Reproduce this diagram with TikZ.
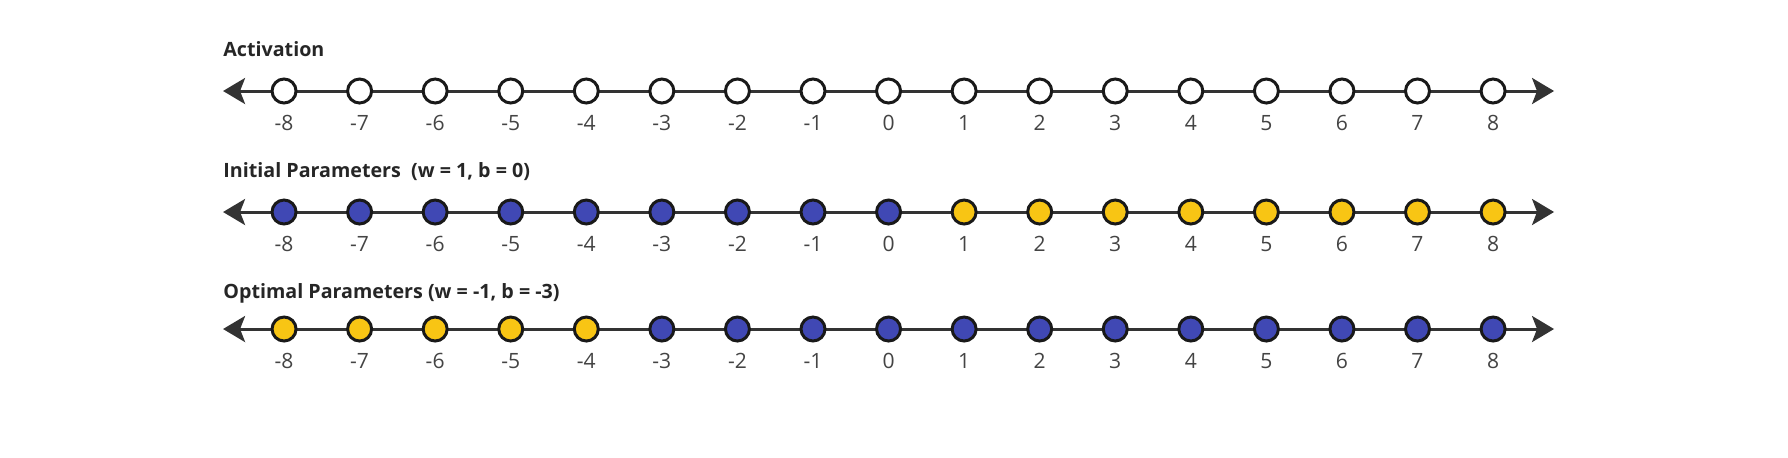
\documentclass[tikz,border=0pt]{standalone}
\usepackage{fontspec}
\setmainfont{Open Sans}
\usetikzlibrary{arrows.meta}
\definecolor{negblue}{RGB}{64,72,180}
\definecolor{posyellow}{RGB}{248,197,20}
\definecolor{axisgray}{RGB}{51,51,51}
\definecolor{numgray}{RGB}{68,68,68}
\begin{document}
\begin{tikzpicture}
	[
	x=1.5112cm, y=1cm,
	axis/.style={draw = axisgray, line width = 1.7pt,
		{Stealth[length=0.44cm, width=0.52cm, inset=0.1cm]}-{Stealth[length=0.44cm, width=0.52cm, inset=0.1cm]}},
	dot/.style={draw = black!90, line width = 1.7pt, shape = circle, minimum size = 0.48cm, inner sep = 0pt},
	offdot/.style={dot, fill = white},
	negdot/.style={dot, fill = negblue},
	posdot/.style={dot, fill = posyellow},
	num/.style={anchor = base, text = numgray, font = \fontsize{12}{14}\selectfont},
	ttl/.style={anchor = base west, inner sep = 0pt, text = black!85, font = \fontsize{11.2}{13}\bfseries}
	]
	\useasboundingbox (-11.759, 0) rectangle (11.903, 9.14);

	% titles
	\node[ttl](t1) at (-8.807, 8.02){Activation};
	\node[ttl](t2) at (-8.807, 5.60){Initial Parameters\ \ (w = 1, b = 0)};
	\node[ttl](t3) at (-8.807, 3.18){Optimal Parameters (w = -1, b = -3)};

	% number lines
	\foreach \r/\y in {1/7.32, 2/4.90, 3/2.56}{
		\coordinate (la\r) at (-8.807, \y);
		\coordinate (ra\r) at (8.807, \y);
		\draw[axis] (la\r) -- (ra\r);
		\foreach \v [count=\i] in {-8,...,8}
			\node[num](n\r-\i) at (\v, \y-0.78){\v};
	}

	% activation
	\foreach \v [count=\i] in {-8,...,8}
		\node[offdot](p1-\i) at (\v, 7.32){};

	% initial parameters
	\foreach \v [evaluate=\v as \i using int(\v+9)] in {-8,...,0}
		\node[negdot](p2-\i) at (\v, 4.90){};
	\foreach \v [evaluate=\v as \i using int(\v+9)] in {1,...,8}
		\node[posdot](p2-\i) at (\v, 4.90){};

	% optimal parameters
	\foreach \v [evaluate=\v as \i using int(\v+9)] in {-8,...,-4}
		\node[posdot](p3-\i) at (\v, 2.56){};
	\foreach \v [evaluate=\v as \i using int(\v+9)] in {-3,...,8}
		\node[negdot](p3-\i) at (\v, 2.56){};
\end{tikzpicture}
\end{document}
